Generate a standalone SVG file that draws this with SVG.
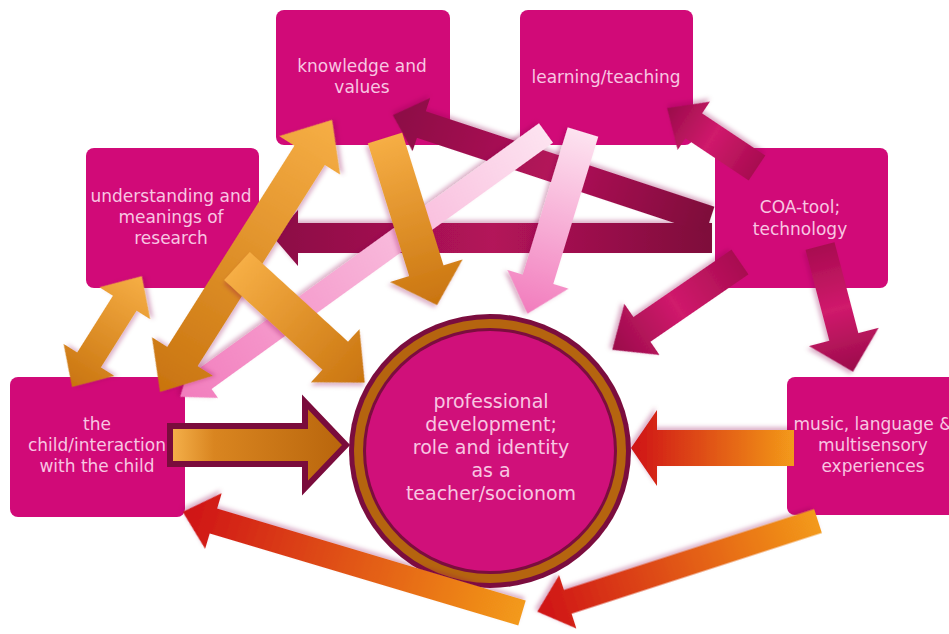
<svg xmlns="http://www.w3.org/2000/svg" width="949" height="634" viewBox="0 0 949 634">
<style>
.box{fill:#d10a78}
.t{font-family:"DejaVu Sans","Liberation Sans",sans-serif;font-size:17px;fill:#f8c6e2;text-anchor:middle}
.ct{font-size:19px}
.arr{filter:url(#sh)}
</style>
<defs>
<linearGradient id="gOr" x1="0" y1="0" x2="1" y2="0"><stop offset="0" stop-color="#f6ae45"/><stop offset="1" stop-color="#c9740f"/></linearGradient>
<linearGradient id="gOrR" x1="0" y1="0" x2="1" y2="0"><stop offset="0" stop-color="#c9740f"/><stop offset="1" stop-color="#f6ae45"/></linearGradient>
<linearGradient id="gPk" x1="0" y1="0" x2="1" y2="0"><stop offset="0" stop-color="#fde3f0"/><stop offset="1" stop-color="#f27cbd"/></linearGradient>
<linearGradient id="gMr" x1="0" y1="0" x2="1" y2="0"><stop offset="0" stop-color="#7e0a3a"/><stop offset="0.5" stop-color="#b3135a"/><stop offset="1" stop-color="#8c0c45"/></linearGradient>
<linearGradient id="gMr2" x1="0" y1="0" x2="1" y2="0"><stop offset="0" stop-color="#a80c50"/><stop offset="0.5" stop-color="#d01a6c"/><stop offset="1" stop-color="#9a0c4a"/></linearGradient>
<linearGradient id="gRd" x1="0" y1="0" x2="1" y2="0"><stop offset="0" stop-color="#f39a1a"/><stop offset="1" stop-color="#cf1212"/></linearGradient>
<linearGradient id="gK" x1="0" y1="0" x2="1" y2="0"><stop offset="0" stop-color="#f6b24c"/><stop offset="0.25" stop-color="#d98520"/><stop offset="1" stop-color="#b8650c"/></linearGradient>
<filter id="sh" x="-20%" y="-20%" width="140%" height="140%"><feDropShadow dx="2" dy="3" stdDeviation="2" flood-color="#901050" flood-opacity="0.3"/></filter>
</defs>
<rect width="949" height="634" fill="#ffffff"/>

<g id="knowledge">
<rect class="box" x="276" y="10" width="174" height="135" rx="8"/>
<text class="t" x="362" y="72">knowledge and</text>
<text class="t" x="362" y="93">values</text>
</g>
<g id="learning">
<rect class="box" x="520" y="10" width="173" height="135" rx="8"/>
<text class="t" x="606" y="83">learning/teaching</text>
</g>
<g id="research">
<rect class="box" x="86" y="148" width="173" height="140" rx="8"/>
<text class="t" x="171" y="202">understanding and</text>
<text class="t" x="171" y="223">meanings of</text>
<text class="t" x="171" y="244">research</text>
</g>
<g id="coa">
<rect class="box" x="715" y="148" width="173" height="140" rx="8"/>
<text class="t" x="800" y="213">COA-tool;</text>
<text class="t" x="800" y="235">technology</text>
</g>
<g id="child">
<rect class="box" x="10" y="377" width="175" height="140" rx="8"/>
<text class="t" x="97" y="430">the</text>
<text class="t" x="97" y="451">child/interaction</text>
<text class="t" x="97" y="472">with the child</text>
</g>
<g id="music">
<rect class="box" x="787" y="377" width="175" height="138" rx="8"/>
<text class="t" x="873" y="430">music, language &amp;</text>
<text class="t" x="873" y="451">multisensory</text>
<text class="t" x="873" y="472">experiences</text>
</g>
<g id="professional">
<ellipse cx="490" cy="451" rx="141" ry="137" fill="#7b0d3e"/>
<ellipse cx="490" cy="451" rx="136" ry="132" fill="#b5640f"/>
<ellipse cx="490" cy="451" rx="127" ry="123" fill="#7b0d3e"/>
<ellipse cx="490" cy="451" rx="124" ry="120" fill="#d0107a"/>
<text class="t ct" x="491" y="408">professional</text>
<text class="t ct" x="491" y="431">development;</text>
<text class="t ct" x="491" y="454">role and identity</text>
<text class="t ct" x="491" y="477">as a</text>
<text class="t ct" x="491" y="500">teacher/socionom</text>
</g>

<g id="connectors">
<polygon class="arr" fill="url(#gMr)" transform="translate(712 238) rotate(180)" points="0,-15 414,-15 414,-28 438,0 414,28 414,15 0,15"/>
<polygon class="arr" fill="url(#gMr)" transform="translate(710 220) rotate(198.3)" points="0,-14 304,-14 304,-28 334,0 304,28 304,14 0,14"/>
<polygon class="arr" fill="url(#gMr2)" transform="translate(757 168) rotate(213.7)" points="0,-15 76,-15 76,-29 108,0 76,29 76,15 0,15"/>
<polygon class="arr" fill="url(#gMr2)" transform="translate(740 262) rotate(145.5)" points="0,-15 119,-15 119,-31 155,0 119,31 119,15 0,15"/>
<polygon class="arr" fill="url(#gMr2)" transform="translate(820 246) rotate(75.3)" points="0,-15 94,-15 94,-36 130,0 94,36 94,15 0,15"/>
<polygon class="arr" fill="url(#gPk)" transform="translate(546 133) rotate(144.2)" points="0,-12 421,-12 421,-23 451,0 421,23 421,12 0,12"/>
<polygon class="arr" fill="url(#gPk)" transform="translate(583 132) rotate(107)" points="0,-16 154,-16 154,-32 190,0 154,32 154,16 0,16"/>
<polygon class="arr" fill="url(#gOrR)" transform="translate(160 392) rotate(-57.7)" points="0,0 42,-36 42,-18 280,-18 280,-36 322,0 280,36 280,18 42,18 42,36"/>
<polygon class="arr" fill="url(#gOrR)" transform="translate(72 387) rotate(-57.8)" points="0,0 32,-30 32,-14 99,-14 99,-30 131,0 99,30 99,14 32,14 32,30"/>
<polygon class="arr" fill="url(#gOr)" transform="translate(385 138) rotate(72.7)" points="0,-18 139,-18 139,-38 175,0 139,38 139,18 0,18"/>
<polygon class="arr" fill="url(#gOr)" transform="translate(237 266) rotate(42.4)" points="0,-19 133,-19 133,-36 173,0 133,36 133,19 0,19"/>
<polygon fill="url(#gK)" stroke="#7a0c3c" stroke-width="6" points="170,426 305,426 305,402 346,445 305,488 305,464 170,464"/>
<polygon class="arr" fill="url(#gRd)" transform="translate(794 448) rotate(180)" points="0,-18 137,-18 137,-38 163,0 137,38 137,18 0,18"/>
<polygon class="arr" fill="url(#gRd)" transform="translate(522 613) rotate(196.6)" points="0,-13 322,-13 322,-29 354,0 322,29 322,13 0,13"/>
<polygon class="arr" fill="url(#gRd)" transform="translate(818 521) rotate(162.1)" points="0,-12.5 263,-12.5 263,-28 295,0 263,28 263,12.5 0,12.5"/>
</g>
</svg>
